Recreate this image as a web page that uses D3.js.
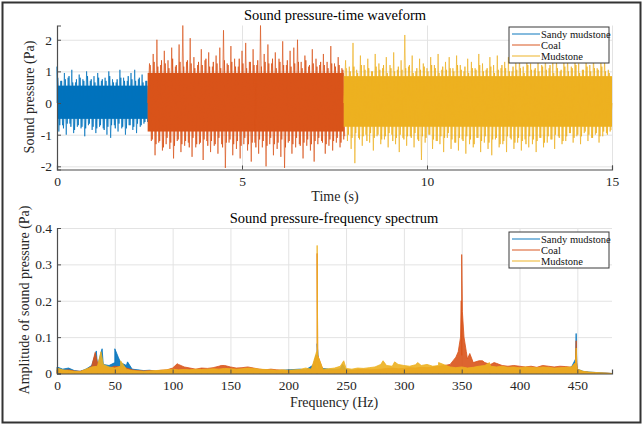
<!DOCTYPE html>
<html>
<head>
<meta charset="utf-8">
<script src="https://cdn.jsdelivr.net/npm/d3@7"></script>
<style>
  body { margin: 0; background: #fff; }
  svg text { font-family: "Liberation Serif", "Times New Roman", Times, serif; }
</style>
</head>
<body>
<svg width="644" height="426"></svg>
<script>
// ---- data ----
const seriesNames = ["Sandy mudstone", "Coal", "Mudstone"];
const colors = ["#0072BD", "#D95319", "#EDB120"];

// waveform: segment boundaries (s), dense core band, 0.1 s peak and mid envelopes
const segBounds = [0, 2.45, 7.75, 15];
const segStartBin = [0, 2.5, 7.8];
const coreBand = [[-0.5, 0.55], [-0.9, 0.95], [-0.75, 0.85]];

const sandyUp = [1.15, 0.7, 0.95, 0.8, 1.05, 0.65, 0.9, 0.75, 1.0, 0.7, 0.85, 0.95, 0.7, 0.8, 1.0, 0.75, 0.65, 1.05, 0.8, 0.7, 0.95, 1.05, 0.75, 0.9, 0.7];
const sandyLo = [-0.9, -0.7, -1.0, -0.65, -0.95, -0.75, -0.8, -1.05, -0.7, -0.85, -0.95, -0.75, -0.8, -1.0, -1.1, -0.7, -0.9, -0.8, -1.0, -0.7, -0.85, -0.95, -0.75, -0.65, -0.6];
const sandyMidUp = [0.8, 0.7, 0.75, 0.85, 0.65, 0.75, 0.8, 0.7, 0.85, 0.75, 0.65, 0.8, 0.75, 0.7, 0.85, 0.65, 0.75, 0.8, 0.7, 0.85, 0.75, 0.7, 0.8, 0.65, 0.7];
const sandyMidLo = [-0.7, -0.8, -0.65, -0.75, -0.85, -0.7, -0.75, -0.8, -0.65, -0.75, -0.8, -0.7, -0.85, -0.75, -0.7, -0.8, -0.65, -0.75, -0.8, -0.7, -0.75, -0.65, -0.7, -0.6, -0.55];

const coalUp = [1.25, 1.55, 2.0, 1.2, 1.65, 1.35, 1.75, 1.15, 1.85, 2.45, 1.3, 2.05, 1.45, 1.2, 1.7, 1.35, 1.6, 1.15, 1.5, 1.75,
  2.3, 1.25, 1.8, 1.4, 1.15, 1.65, 1.9, 1.3, 1.7, 1.2, 2.45, 1.55, 1.85, 1.25, 1.6, 1.4, 1.95, 1.2, 1.65, 1.75,
  2.0, 1.3, 1.5, 1.15, 1.7, 1.4, 1.2, 1.55, 1.3, 1.8, 1.25, 1.45, 1.1];
const coalLo = [-1.2, -1.65, -1.25, -1.5, -1.3, -1.45, -1.75, -1.2, -1.55, -1.35, -1.25, -1.7, -1.4, -1.3, -1.8, -1.2, -1.55, -1.35, -1.6, -1.3,
  -2.05, -1.25, -1.65, -1.45, -1.75, -1.3, -1.5, -1.85, -1.25, -1.6, -1.4, -2.0, -1.3, -1.65, -1.45, -1.7, -2.05, -1.25, -1.6, -1.4,
  -1.3, -1.75, -1.35, -1.5, -1.85, -1.3, -1.2, -1.6, -1.35, -1.5, -1.25, -1.4, -1.15];
const coalMidUp = [1.2, 1.3, 1.15, 1.35, 1.25, 1.1, 1.4, 1.2, 1.3, 1.15, 1.35, 1.25, 1.1, 1.3, 1.2, 1.4, 1.15, 1.3, 1.25, 1.1,
  1.35, 1.2, 1.3, 1.15, 1.4, 1.25, 1.1, 1.3, 1.2, 1.35, 1.15, 1.3, 1.25, 1.4, 1.1, 1.3, 1.2, 1.35, 1.15, 1.25,
  1.3, 1.1, 1.35, 1.2, 1.25, 1.15, 1.3, 1.2, 1.1, 1.25, 1.15, 1.2, 1.05];
const coalMidLo = [-1.15, -1.3, -1.2, -1.4, -1.1, -1.25, -1.35, -1.15, -1.3, -1.2, -1.4, -1.1, -1.3, -1.25, -1.15, -1.35, -1.2, -1.3, -1.1, -1.4,
  -1.25, -1.15, -1.3, -1.2, -1.35, -1.1, -1.3, -1.25, -1.4, -1.15, -1.2, -1.35, -1.1, -1.3, -1.25, -1.15, -1.4, -1.2, -1.3, -1.1,
  -1.35, -1.25, -1.15, -1.3, -1.2, -1.1, -1.25, -1.3, -1.15, -1.2, -1.1, -1.25, -1.05];

const mudUp = [1.35, 1.15, 1.9, 1.05, 1.5, 1.2, 1.4, 1.0, 1.55, 1.25, 1.1, 1.45, 1.2, 1.6, 1.05, 1.35, 2.15, 1.15, 1.5, 1.0,
  1.4, 1.25, 1.1, 1.45, 1.2, 1.55, 1.05, 1.3, 1.45, 1.1, 1.5, 1.2, 1.0, 1.4, 1.3, 1.1, 1.55, 1.25, 1.05, 1.45,
  1.2, 1.5, 1.1, 1.3, 1.45, 1.0, 1.35, 1.55, 1.15, 1.4, 1.25, 1.05, 1.45, 1.2, 1.6, 1.1, 1.3, 1.45, 1.0, 1.35,
  1.5, 1.15, 1.4, 1.25, 1.05, 1.45, 1.2, 1.55, 1.1, 1.3, 1.4, 1.05];
const mudLo = [-1.2, -1.45, -1.9, -1.1, -1.35, -1.0, -1.25, -1.5, -1.05, -1.3, -1.15, -1.4, -1.0, -1.3, -1.55, -1.1, -1.35, -1.05, -1.4, -1.15,
  -1.8, -1.25, -1.0, -1.45, -1.2, -1.3, -1.55, -1.1, -1.45, -1.25, -1.5, -1.15, -1.6, -1.3, -1.4, -1.1, -1.55, -1.25, -1.45, -1.65,
  -1.15, -1.4, -1.3, -1.55, -1.1, -1.45, -1.25, -1.5, -1.15, -1.4, -1.3, -1.55, -1.1, -1.4, -1.25, -1.15, -1.45, -1.05, -1.3, -1.2,
  -0.95, -1.25, -1.05, -1.3, -0.95, -1.2, -1.1, -1.0, -1.25, -1.05, -0.95, -0.9];
const mudMidUp = [1.1, 1.0, 1.15, 0.95, 1.2, 1.05, 1.1, 1.0, 1.15, 1.05, 1.2, 0.95, 1.1, 1.0, 1.15, 1.05, 1.1, 1.2, 0.95, 1.1,
  1.05, 1.15, 1.0, 1.2, 1.1, 0.95, 1.15, 1.05, 1.1, 1.0, 1.2, 1.05, 1.15, 0.95, 1.1, 1.05, 1.2, 1.0, 1.1, 1.15,
  0.95, 1.05, 1.2, 1.1, 1.0, 1.15, 1.05, 1.1, 0.95, 1.2, 1.05, 1.1, 1.0, 1.15, 1.05, 1.2, 0.95, 1.1, 1.05, 1.15,
  1.0, 1.1, 1.2, 0.95, 1.05, 1.15, 1.0, 1.1, 1.05, 1.15, 1.0, 0.95];
const mudMidLo = [-1.0, -1.1, -0.95, -1.15, -1.05, -1.2, -0.95, -1.1, -1.0, -1.15, -1.05, -0.95, -1.2, -1.1, -1.0, -1.15, -1.05, -1.1, -0.95, -1.2,
  -1.05, -1.1, -1.0, -1.15, -1.2, -1.05, -1.1, -0.95, -1.15, -1.25, -1.1, -1.2, -1.05, -1.15, -1.3, -1.1, -1.2, -1.05, -1.25, -1.15,
  -1.1, -1.3, -1.2, -1.05, -1.15, -1.25, -1.1, -1.2, -1.3, -1.05, -1.15, -1.2, -1.1, -1.25, -1.05, -1.15, -1.0, -1.1, -1.2, -1.05,
  -0.95, -1.1, -1.0, -1.05, -0.9, -1.0, -1.1, -0.95, -1.05, -0.9, -1.0, -0.85];

// spectrum: envelope every 5 Hz (0..480) plus sharp peaks [Hz, Pa]
const freqStep = 5;
const sandySpec = [0.018, 0.012, 0.015, 0.008, 0.006, 0.012, 0.022, 0.02, 0.025, 0.022, 0.03, 0.03, 0.022, 0.012, 0.01, 0.008,
  0.009, 0.007, 0.008, 0.006, 0.008, 0.007, 0.009, 0.008, 0.007, 0.008, 0.009, 0.008, 0.01, 0.009, 0.008, 0.009,
  0.01, 0.008, 0.009, 0.008, 0.01, 0.009, 0.008, 0.009, 0.01, 0.011, 0.012, 0.01, 0.02, 0.03, 0.014, 0.012,
  0.011, 0.013, 0.01, 0.009, 0.01, 0.008, 0.009, 0.008, 0.009, 0.008, 0.008, 0.009, 0.008, 0.007, 0.008, 0.007,
  0.008, 0.007, 0.008, 0.007, 0.008, 0.009, 0.01, 0.008, 0.007, 0.008, 0.007, 0.008, 0.007, 0.008, 0.007, 0.008,
  0.008, 0.007, 0.008, 0.008, 0.009, 0.008, 0.009, 0.01, 0.014, 0.018, 0.012, 0.006, 0.004, 0.003, 0.002, 0.001, 0];
const coalSpec = [0.01, 0.008, 0.01, 0.007, 0.006, 0.01, 0.02, 0.03, 0.02, 0.015, 0.02, 0.018, 0.015, 0.01, 0.008, 0.007,
  0.008, 0.007, 0.009, 0.01, 0.015, 0.025, 0.018, 0.015, 0.012, 0.015, 0.014, 0.016, 0.02, 0.022, 0.018, 0.015,
  0.016, 0.018, 0.015, 0.012, 0.01, 0.012, 0.01, 0.009, 0.008, 0.007, 0.008, 0.009, 0.012, 0.015, 0.01, 0.008,
  0.008, 0.01, 0.009, 0.008, 0.01, 0.012, 0.01, 0.011, 0.012, 0.014, 0.015, 0.013, 0.014, 0.016, 0.015, 0.017,
  0.016, 0.018, 0.02, 0.022, 0.025, 0.045, 0.05, 0.04, 0.03, 0.035, 0.03, 0.025, 0.028, 0.022, 0.02, 0.022,
  0.02, 0.018, 0.02, 0.017, 0.022, 0.02, 0.018, 0.02, 0.019, 0.017, 0.01, 0.005, 0.003, 0.002, 0.001, 0.001, 0];
const mudSpec = [0.015, 0.01, 0.008, 0.006, 0.005, 0.012, 0.018, 0.02, 0.025, 0.018, 0.015, 0.02, 0.012, 0.008, 0.007, 0.006,
  0.007, 0.008, 0.009, 0.01, 0.012, 0.01, 0.011, 0.01, 0.012, 0.011, 0.012, 0.013, 0.012, 0.014, 0.013, 0.012,
  0.013, 0.015, 0.014, 0.012, 0.011, 0.01, 0.009, 0.01, 0.009, 0.01, 0.011, 0.015, 0.012, 0.014, 0.012, 0.013,
  0.015, 0.02, 0.014, 0.012, 0.015, 0.014, 0.016, 0.018, 0.025, 0.022, 0.02, 0.025, 0.022, 0.02, 0.024, 0.022,
  0.025, 0.02, 0.022, 0.024, 0.018, 0.016, 0.018, 0.015, 0.017, 0.02, 0.022, 0.02, 0.018, 0.02, 0.017, 0.018,
  0.016, 0.018, 0.017, 0.016, 0.018, 0.017, 0.015, 0.016, 0.017, 0.018, 0.012, 0.006, 0.004, 0.003, 0.002, 0.001, 0];

const sandyPeaks = [[34, 0.062], [39, 0.068], [50, 0.068], [53, 0.045], [61, 0.032], [222, 0.025], [224, 0.05], [225, 0.082], [226, 0.04], [228, 0.02], [247, 0.025], [448.5, 0.04], [449, 0.11], [449.5, 0.03]];
const coalPeaks = [[33, 0.058], [36, 0.03], [104, 0.027], [142, 0.022], [224.5, 0.05], [225, 0.33], [225.5, 0.05], [347, 0.06], [349, 0.1], [349.6, 0.2], [350, 0.327], [350.6, 0.17], [352, 0.1], [354, 0.06], [357, 0.055], [368, 0.035], [378, 0.03], [448.5, 0.03], [449, 0.09], [449.5, 0.03]];
const mudPeaks = [[38, 0.06], [55, 0.035], [224.5, 0.06], [225, 0.352], [225.5, 0.05], [248, 0.035], [282, 0.035], [292, 0.032], [312, 0.03], [330, 0.03], [374, 0.03], [448.5, 0.03], [449, 0.07], [449.5, 0.025]];

const timeTicks = [0, 5, 10, 15];
const presTicks = [-2, -1, 0, 1, 2];
const freqTicks = [0, 50, 100, 150, 200, 250, 300, 350, 400, 450];
const ampTicks = [0, 0.1, 0.2, 0.3, 0.4];

// ---- drawing ----
const serif = '"Liberation Serif", "Times New Roman", Times, serif';
const svg = d3.select("svg");
svg.append("rect").attr("x", 2.5).attr("y", 2.5).attr("width", 638).attr("height", 420)
  .attr("fill", "#fff").attr("stroke", "#333").attr("stroke-width", 2);

const left = 57, right = 612;
const axisColor = "#4d4d4d";
const gridColor = "#e3e3e3";

// styles an axis group like MATLAB
function styleAxis(g) {
  g.attr("font-family", null).style("font-family", serif);
  g.select(".domain").attr("stroke", axisColor).attr("stroke-width", 1.2);
  g.selectAll(".tick line").attr("stroke", axisColor);
  g.selectAll(".tick text").attr("fill", "#262626").attr("font-size", 13.5)
    .style("font-family", serif);
}

function drawLegend(x, y) {
  const lg = svg.append("g").attr("transform", `translate(${x},${y})`);
  lg.append("rect").attr("width", 100).attr("height", 36)
    .attr("fill", "#fff").attr("stroke", "#3a3a3a").attr("stroke-width", 1);
  seriesNames.forEach((n, i) => {
    const yy = 7 + i * 11;
    lg.append("line").attr("x1", 3).attr("x2", 31).attr("y1", yy).attr("y2", yy)
      .attr("stroke", colors[i]).attr("stroke-width", 1.2).attr("opacity", 0.8);
    lg.append("text").attr("x", 32).attr("y", yy + 3.5).text(n)
      .attr("font-size", 10.5).attr("fill", "#111").style("font-family", serif);
  });
}

function label(x, y, txt, size, rot) {
  return svg.append("text")
    .attr("transform", `translate(${x},${y})` + (rot ? " rotate(-90)" : ""))
    .attr("text-anchor", "middle").attr("font-size", size)
    .style("font-family", serif).text(txt);
}

// ===== top: waveform =====
const xT = d3.scaleLinear().domain([0, 15]).range([left, right]);
const yT = d3.scaleLinear().domain([-2.1, 2.45]).range([169.5, 25.5]);

const gT = svg.append("g");
gT.append("g").attr("transform", "translate(0,169.5)")
  .call(d3.axisBottom(xT).tickValues(timeTicks).tickSize(-(169.5 - 25.5)).tickFormat(""))
  .call(g => g.select(".domain").remove())
  .call(g => g.selectAll(".tick line").attr("stroke", gridColor));
gT.append("g").attr("transform", `translate(${left},0)`)
  .call(d3.axisLeft(yT).tickValues(presTicks).tickSize(-(right - left)).tickFormat(""))
  .call(g => g.select(".domain").remove())
  .call(g => g.selectAll(".tick line").attr("stroke", gridColor));

const ups = [sandyUp, coalUp, mudUp];
const los = [sandyLo, coalLo, mudLo];
const midUps = [sandyMidUp, coalMidUp, mudMidUp];
const midLos = [sandyMidLo, coalMidLo, mudMidLo];
const wave = d3.line().x(d => xT(d[0])).y(d => yT(d[1]));

ups.forEach((up, s) => {
  gT.append("rect")
    .attr("x", xT(segBounds[s])).attr("width", xT(segBounds[s + 1]) - xT(segBounds[s]))
    .attr("y", yT(coreBand[s][1])).attr("height", yT(coreBand[s][0]) - yT(coreBand[s][1]))
    .attr("fill", colors[s]);
  // mid-level oscillation between the peaks
  const mid = [];
  midUps[s].forEach((v, i) => {
    const t = segStartBin[s] + i * 0.1;
    mid.push([t + 0.025, v]);
    mid.push([t + 0.075, midLos[s][i]]);
  });
  gT.append("path").datum(mid)
    .attr("fill", "none").attr("stroke", colors[s]).attr("stroke-width", 0.8)
    .attr("d", wave);
  // peak spikes
  const pts = [];
  up.forEach((v, i) => {
    const t = segStartBin[s] + i * 0.1;
    pts.push([t, v]);
    pts.push([t + 0.05, los[s][i]]);
  });
  pts.unshift([segBounds[s], 0]);
  pts.push([segBounds[s + 1], 0]);
  gT.append("path").datum(pts)
    .attr("fill", "none").attr("stroke", colors[s]).attr("stroke-width", 0.8)
    .attr("stroke-opacity", 0.85)
    .attr("d", wave);
});

gT.append("g").attr("transform", "translate(0,169.5)")
  .call(d3.axisBottom(xT).tickValues(timeTicks).tickSize(-4).tickPadding(7).tickFormat(d => String(d)))
  .call(styleAxis);
gT.append("g").attr("transform", `translate(${left},0)`)
  .call(d3.axisLeft(yT).tickValues(presTicks).tickSize(-4).tickPadding(5).tickFormat(d => String(d)))
  .call(styleAxis);

label(335, 20, "Sound pressure-time waveform", 14.5).attr("fill", "#000");
label(335, 201, "Time (s)", 14).attr("fill", "#262626");
label(34, 97, "Sound pressure (Pa)", 14, true).attr("fill", "#262626");
drawLegend(509, 27);

// ===== bottom: spectrum =====
const xF = d3.scaleLinear().domain([0, 480]).range([left, right]);
const yF = d3.scaleLinear().domain([0, 0.4]).range([373.5, 228]);

const gF = svg.append("g");
gF.append("g").attr("transform", "translate(0,373.5)")
  .call(d3.axisBottom(xF).tickValues(freqTicks).tickSize(-(373.5 - 228)).tickFormat(""))
  .call(g => g.select(".domain").remove())
  .call(g => g.selectAll(".tick line").attr("stroke", gridColor));
gF.append("g").attr("transform", `translate(${left},0)`)
  .call(d3.axisLeft(yF).tickValues(ampTicks).tickSize(-(right - left)).tickFormat(""))
  .call(g => g.select(".domain").remove())
  .call(g => g.selectAll(".tick line").attr("stroke", gridColor));

const specs = [sandySpec, coalSpec, mudSpec];
const peaks = [sandyPeaks, coalPeaks, mudPeaks];
specs.forEach((sp, s) => {
  const pts = sp.map((v, i) => [i * freqStep, v]).concat(peaks[s]);
  pts.sort((a, b) => a[0] - b[0]);
  gF.append("path").datum(pts)
    .attr("fill", colors[s]).attr("fill-opacity", 0.9)
    .attr("stroke", colors[s]).attr("stroke-width", 0.8)
    .attr("d", d3.area().x(d => xF(d[0])).y0(yF(0)).y1(d => yF(d[1])));
});

gF.append("g").attr("transform", "translate(0,373.5)")
  .call(d3.axisBottom(xF).tickValues(freqTicks).tickSize(-4).tickPadding(7).tickFormat(d => String(d)))
  .call(styleAxis);
gF.append("g").attr("transform", `translate(${left},0)`)
  .call(d3.axisLeft(yF).tickValues(ampTicks).tickSize(-4).tickPadding(5).tickFormat(d => String(d)))
  .call(styleAxis);

label(334, 223, "Sound pressure-frequency spectrum", 14.5).attr("fill", "#000");
label(334, 407, "Frequency (Hz)", 14).attr("fill", "#262626");
label(29, 300, "Amplitude of sound pressure (Pa)", 14, true).attr("fill", "#262626");
drawLegend(509, 232);
</script>
</body>
</html>
